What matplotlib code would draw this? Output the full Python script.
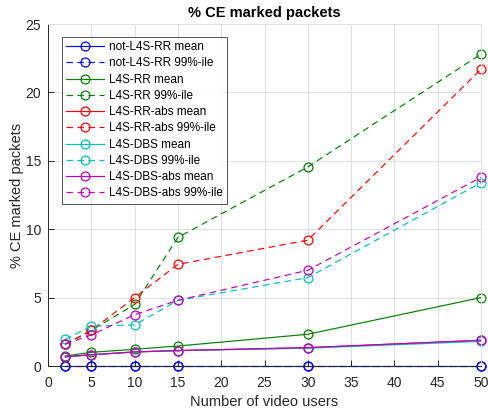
import matplotlib
matplotlib.use("Agg")
import matplotlib.pyplot as plt

plt.rcParams['font.family'] = ['Liberation Sans', 'DejaVu Sans']

users = [2, 5, 10, 15, 30, 50]

not_rr_mean = [0, 0, 0, 0, 0, 0]
not_rr_p99 = [0, 0, 0, 0, 0, 0]
rr_mean = [0.73, 1.0, 1.22, 1.46, 2.32, 5.0]
rr_p99 = [1.6, 2.6, 4.5, 9.4, 14.55, 22.8]
rr_abs_mean = [0.68, 0.82, 1.03, 1.13, 1.34, 1.88]
rr_abs_p99 = [1.6, 2.6, 5.0, 7.43, 9.2, 21.7]
dbs_mean = [0.66, 0.82, 1.02, 1.12, 1.3, 1.8]
dbs_p99 = [1.95, 2.92, 3.0, 4.8, 6.46, 13.4]
dbs_abs_mean = [0.68, 0.82, 1.03, 1.13, 1.34, 1.88]
dbs_abs_p99 = [1.6, 2.27, 3.75, 4.8, 7.0, 13.8]

series = [
    ("not-L4S-RR", not_rr_mean, not_rr_p99, (0, 0, 1)),
    ("L4S-RR", rr_mean, rr_p99, (0, 0.5, 0)),
    ("L4S-RR-abs", rr_abs_mean, rr_abs_p99, (1, 0, 0)),
    ("L4S-DBS", dbs_mean, dbs_p99, (0, 0.75, 0.75)),
    ("L4S-DBS-abs", dbs_abs_mean, dbs_abs_p99, (0.75, 0, 0.75)),
]

fig = plt.figure(figsize=(4.88, 4.08), dpi=100)
ax = fig.add_axes([48 / 488, 1 - 366 / 408, 433 / 488, 342 / 408])

for name, mean, p99, col in series:
    ax.plot(users, mean, '-', color=col, lw=0.85, marker='o', ms=6.4,
            mfc='none', mec=col, mew=0.9, clip_on=False, label=f"{name} mean")
    ax.plot(users, p99, '--', color=col, lw=0.85, marker='o', ms=6.4,
            mfc='none', mec=col, mew=0.9, dashes=(5.5, 3.8), clip_on=False,
            label=f"{name} 99%-ile")

ax.set_xlim(0, 50)
ax.set_ylim(0, 25)
ax.set_xticks(range(0, 51, 5))
ax.set_yticks(range(0, 26, 5))
ax.grid(True, color=(0.88, 0.88, 0.88), lw=0.7)
ax.set_axisbelow(True)
dark = (0.15, 0.15, 0.15)
for s in ax.spines.values():
    s.set_color(dark)
    s.set_linewidth(0.7)
ax.spines['top'].set_color((0.88, 0.88, 0.88))
ax.spines['right'].set_color((0.88, 0.88, 0.88))
ax.tick_params(direction='in', length=4, width=0.7, labelsize=10,
               colors=dark)
ax.tick_params(axis='x', pad=7)
ax.tick_params(axis='y', pad=5)
ax.set_xlabel("Number of video users", fontsize=10.5, color=dark, labelpad=4)
ax.set_ylabel("% CE marked packets", fontsize=10.5, color=dark, labelpad=1)
ax.set_title("% CE marked packets", fontsize=10.5, fontweight='bold', pad=5)

leg = ax.legend(loc='upper left', bbox_to_anchor=(14 / 433, 1 - 13 / 342),
                fontsize=8.5, frameon=True, fancybox=False, edgecolor=dark,
                borderpad=0.35, labelspacing=0.36, handlelength=3.2,
                handletextpad=0.4, borderaxespad=0)
leg.get_frame().set_linewidth(0.7)

fig.savefig("out.png", dpi=100)
